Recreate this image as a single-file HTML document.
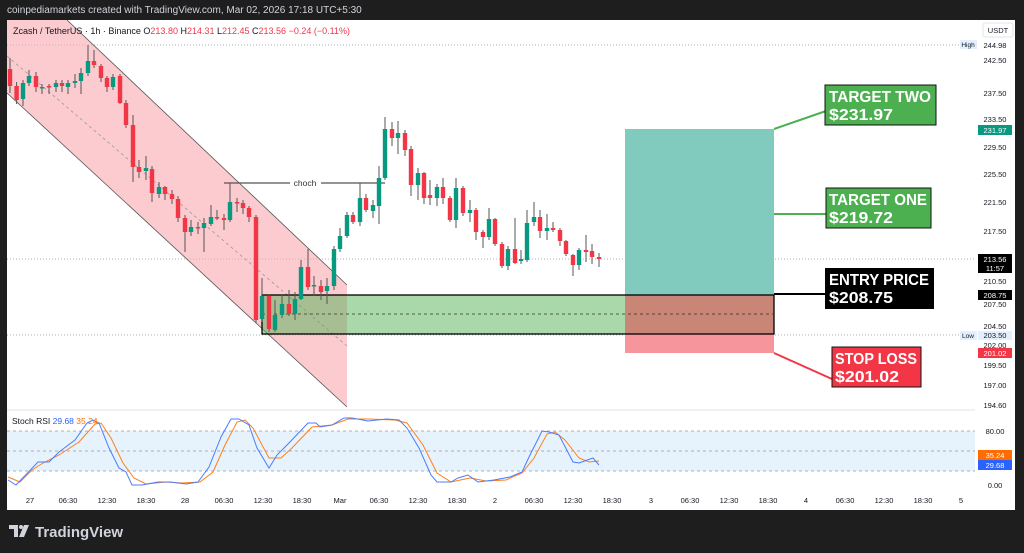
<!DOCTYPE html>
<html><head><meta charset="utf-8"><style>
html,body{margin:0;padding:0;background:#1e1e1e;}
svg{display:block;font-family:"Liberation Sans",sans-serif;}
</style></head><body>
<svg width="1024" height="553" viewBox="0 0 1024 553" xmlns="http://www.w3.org/2000/svg">
<rect width="1024" height="553" fill="#1e1e1e"/>
<text x="7" y="13" fill="#d1d4dc" font-size="10">coinpediamarkets created with TradingView.com, Mar 02, 2026 17:18 UTC+5:30</text>
<rect x="7" y="20" width="1008" height="490" fill="#fff"/>
<rect x="7" y="431" width="968" height="40" fill="#e3f2fd" opacity="0.9"/>
<g stroke="#9598a1" stroke-dasharray="3,3" stroke-width="0.8">
<line x1="7" y1="431" x2="975" y2="431"/><line x1="7" y1="451" x2="975" y2="451"/><line x1="7" y1="471" x2="975" y2="471"/>
</g>
<g stroke="#9598a1" stroke-dasharray="1,2" stroke-width="0.8">
<line x1="7" y1="45" x2="960" y2="45"/><line x1="7" y1="259" x2="975" y2="259"/><line x1="7" y1="335" x2="960" y2="335"/>
</g>
<polygon points="7,20 67,20 347,285 347,407 7,93" fill="#f7a1a8" opacity="0.55"/>
<line x1="67" y1="20" x2="347" y2="285" stroke="#555" stroke-width="0.8"/>
<line x1="7" y1="93" x2="347" y2="407" stroke="#555" stroke-width="0.8"/>
<line x1="7" y1="56" x2="347" y2="346" stroke="#999" stroke-width="0.8" stroke-dasharray="3,3"/>
<!-- demand zone -->
<rect x="262" y="295" width="363" height="39" fill="#4caf50" opacity="0.48"/>
<!-- position tool -->
<rect x="625" y="129" width="149" height="166" fill="#80cbbd"/>
<rect x="625" y="295" width="149" height="39" fill="#c98676"/>
<rect x="625" y="334" width="149" height="19" fill="#f7959d"/>
<rect x="262" y="295" width="512" height="39" fill="none" stroke="#000" stroke-width="1.3"/>
<line x1="262" y1="314" x2="774" y2="314" stroke="#333" stroke-dasharray="3,3" stroke-width="0.8"/>
<line x1="224" y1="183" x2="290" y2="183" stroke="#555" stroke-width="1.2"/>
<line x1="321" y1="183" x2="385" y2="183" stroke="#555" stroke-width="1.2"/>
<text x="305" y="186" font-size="8.5" text-anchor="middle" fill="#333">choch</text>
<g stroke-width="1">
<g stroke="#555">
<line x1="10" y1="58" x2="10" y2="93"/><line x1="16.6" y1="82" x2="16.6" y2="104"/><line x1="23" y1="80" x2="23" y2="106"/><line x1="29" y1="70" x2="29" y2="86"/><line x1="36" y1="72" x2="36" y2="92"/><line x1="42" y1="84" x2="42" y2="94"/><line x1="49" y1="84" x2="49" y2="94"/><line x1="56" y1="80" x2="56" y2="92"/><line x1="62" y1="80" x2="62" y2="92"/><line x1="68" y1="80" x2="68" y2="94"/><line x1="75" y1="74" x2="75" y2="88"/><line x1="81" y1="68" x2="81" y2="94"/><line x1="88" y1="45" x2="88" y2="76"/><line x1="94" y1="50" x2="94" y2="68"/><line x1="101" y1="64" x2="101" y2="82"/><line x1="107" y1="76" x2="107" y2="92"/><line x1="113" y1="74" x2="113" y2="90"/><line x1="120" y1="74" x2="120" y2="104"/><line x1="126" y1="100" x2="126" y2="128"/><line x1="133" y1="115" x2="133" y2="182"/><line x1="139" y1="160" x2="139" y2="178"/><line x1="146" y1="156" x2="146" y2="180"/><line x1="152" y1="166" x2="152" y2="202"/><line x1="159" y1="182" x2="159" y2="198"/><line x1="165" y1="186" x2="165" y2="200"/><line x1="172" y1="190" x2="172" y2="204"/><line x1="178" y1="196" x2="178" y2="222"/><line x1="185" y1="215" x2="185" y2="252"/><line x1="191" y1="220" x2="191" y2="236"/><line x1="198" y1="222" x2="198" y2="234"/><line x1="204" y1="218" x2="204" y2="252"/><line x1="211" y1="205" x2="211" y2="226"/><line x1="217" y1="210" x2="217" y2="220"/><line x1="224" y1="214" x2="224" y2="230"/><line x1="230" y1="183" x2="230" y2="222"/><line x1="237" y1="198" x2="237" y2="212"/><line x1="243" y1="200" x2="243" y2="214"/><line x1="249" y1="206" x2="249" y2="222"/><line x1="256" y1="215" x2="256" y2="323"/><line x1="262" y1="278" x2="262" y2="322"/><line x1="269" y1="294" x2="269" y2="332"/><line x1="275" y1="300" x2="275" y2="332"/><line x1="282" y1="294" x2="282" y2="318"/><line x1="289" y1="290" x2="289" y2="316"/><line x1="295" y1="292" x2="295" y2="320"/><line x1="301" y1="260" x2="301" y2="300"/><line x1="308" y1="249" x2="308" y2="290"/><line x1="314" y1="276" x2="314" y2="296"/><line x1="321" y1="280" x2="321" y2="300"/><line x1="327" y1="278" x2="327" y2="304"/><line x1="334" y1="246" x2="334" y2="290"/><line x1="340" y1="228" x2="340" y2="252"/><line x1="347" y1="212" x2="347" y2="238"/><line x1="353" y1="212" x2="353" y2="224"/><line x1="360" y1="183" x2="360" y2="226"/><line x1="366" y1="194" x2="366" y2="212"/><line x1="373" y1="200" x2="373" y2="218"/><line x1="379" y1="166" x2="379" y2="224"/><line x1="385" y1="117" x2="385" y2="180"/><line x1="392" y1="122" x2="392" y2="146"/><line x1="398" y1="121" x2="398" y2="154"/><line x1="405" y1="130" x2="405" y2="156"/><line x1="411" y1="146" x2="411" y2="196"/><line x1="418" y1="168" x2="418" y2="200"/><line x1="424" y1="172" x2="424" y2="204"/><line x1="437" y1="184" x2="437" y2="206"/><line x1="443" y1="178" x2="443" y2="204"/><line x1="450" y1="196" x2="450" y2="222"/><line x1="456" y1="178" x2="456" y2="228"/><line x1="463" y1="186" x2="463" y2="216"/><line x1="470" y1="200" x2="470" y2="222"/><line x1="476" y1="208" x2="476" y2="240"/><line x1="483" y1="230" x2="483" y2="248"/><line x1="489" y1="208" x2="489" y2="240"/><line x1="495" y1="218" x2="495" y2="246"/><line x1="502" y1="242" x2="502" y2="268"/><line x1="508" y1="246" x2="508" y2="270"/><line x1="515" y1="218" x2="515" y2="264"/><line x1="521" y1="250" x2="521" y2="264"/><line x1="527" y1="210" x2="527" y2="262"/><line x1="534" y1="202" x2="534" y2="226"/><line x1="540" y1="210" x2="540" y2="238"/><line x1="547" y1="214" x2="547" y2="240"/><line x1="553" y1="222" x2="553" y2="232"/><line x1="560" y1="228" x2="560" y2="246"/><line x1="566" y1="240" x2="566" y2="256"/><line x1="573" y1="254" x2="573" y2="276"/><line x1="579" y1="248" x2="579" y2="270"/><line x1="586" y1="235" x2="586" y2="262"/><line x1="592" y1="244" x2="592" y2="264"/><line x1="599" y1="253" x2="599" y2="267"/><line x1="430" y1="180" x2="430" y2="205"/>
</g>
<g fill="#089981">
<rect x="20.8" y="83" width="4.4" height="16"/><rect x="26.8" y="76" width="4.4" height="7"/><rect x="39.8" y="87" width="4.4" height="1.5"/><rect x="53.8" y="83" width="4.4" height="4"/><rect x="65.8" y="83" width="4.4" height="4"/><rect x="72.8" y="81" width="4.4" height="2"/><rect x="78.8" y="73" width="4.4" height="8"/><rect x="85.8" y="61" width="4.4" height="12"/><rect x="110.8" y="77" width="4.4" height="10"/><rect x="143.8" y="168" width="4.4" height="3"/><rect x="156.8" y="187" width="4.4" height="7"/><rect x="188.8" y="227" width="4.4" height="5"/><rect x="201.8" y="223" width="4.4" height="5"/><rect x="208.8" y="217" width="4.4" height="7"/><rect x="227.8" y="202" width="4.4" height="18"/><rect x="259.8" y="296" width="4.4" height="23"/><rect x="272.8" y="315" width="4.4" height="15"/><rect x="279.8" y="304" width="4.4" height="11"/><rect x="292.8" y="299" width="4.4" height="15"/><rect x="298.8" y="267" width="4.4" height="32"/><rect x="311.8" y="285" width="4.4" height="1.5"/><rect x="324.8" y="286" width="4.4" height="5"/><rect x="331.8" y="249" width="4.4" height="37"/><rect x="337.8" y="236" width="4.4" height="13"/><rect x="344.8" y="215" width="4.4" height="21"/><rect x="357.8" y="198" width="4.4" height="24"/><rect x="370.8" y="205" width="4.4" height="6"/><rect x="376.8" y="178" width="4.4" height="28"/><rect x="382.8" y="129" width="4.4" height="49"/><rect x="395.8" y="133" width="4.4" height="5"/><rect x="415.8" y="173" width="4.4" height="12"/><rect x="434.8" y="187" width="4.4" height="11"/><rect x="453.8" y="188" width="4.4" height="32"/><rect x="467.8" y="210" width="4.4" height="3"/><rect x="486.8" y="219" width="4.4" height="18"/><rect x="505.8" y="249" width="4.4" height="17"/><rect x="518.8" y="259" width="4.4" height="2"/><rect x="524.8" y="223" width="4.4" height="37"/><rect x="531.8" y="217" width="4.4" height="5"/><rect x="544.8" y="228" width="4.4" height="3"/><rect x="576.8" y="250" width="4.4" height="15"/>
</g>
<g fill="#f23645">
<rect x="7.8" y="69" width="4.4" height="17"/><rect x="14.4" y="86" width="4.4" height="14"/><rect x="33.8" y="76" width="4.4" height="11"/><rect x="46.8" y="86" width="4.4" height="1.5"/><rect x="59.8" y="83" width="4.4" height="3"/><rect x="91.8" y="61" width="4.4" height="4"/><rect x="98.8" y="66" width="4.4" height="12"/><rect x="104.8" y="78" width="4.4" height="9"/><rect x="117.8" y="76" width="4.4" height="27"/><rect x="123.8" y="103" width="4.4" height="22"/><rect x="130.8" y="125" width="4.4" height="42"/><rect x="136.8" y="167" width="4.4" height="5"/><rect x="149.8" y="169" width="4.4" height="24"/><rect x="162.8" y="187" width="4.4" height="7"/><rect x="169.8" y="194" width="4.4" height="5"/><rect x="175.8" y="199" width="4.4" height="19"/><rect x="182.8" y="218" width="4.4" height="14"/><rect x="195.8" y="227" width="4.4" height="1.5"/><rect x="214.8" y="217" width="4.4" height="1.5"/><rect x="221.8" y="218" width="4.4" height="2"/><rect x="234.8" y="202" width="4.4" height="1.5"/><rect x="240.8" y="203" width="4.4" height="5"/><rect x="246.8" y="208" width="4.4" height="9"/><rect x="253.8" y="217" width="4.4" height="103"/><rect x="266.8" y="296" width="4.4" height="33"/><rect x="286.8" y="304" width="4.4" height="10"/><rect x="305.8" y="267" width="4.4" height="20"/><rect x="318.8" y="286" width="4.4" height="6"/><rect x="350.8" y="215" width="4.4" height="7"/><rect x="363.8" y="198" width="4.4" height="12"/><rect x="389.8" y="129" width="4.4" height="9"/><rect x="402.8" y="133" width="4.4" height="17"/><rect x="408.8" y="149" width="4.4" height="36"/><rect x="421.8" y="173" width="4.4" height="25"/><rect x="427.8" y="195" width="4.4" height="3"/><rect x="440.8" y="187" width="4.4" height="11"/><rect x="447.8" y="198" width="4.4" height="22"/><rect x="460.8" y="188" width="4.4" height="25"/><rect x="473.8" y="210" width="4.4" height="22"/><rect x="480.8" y="232" width="4.4" height="5"/><rect x="492.8" y="219" width="4.4" height="25"/><rect x="499.8" y="244" width="4.4" height="22"/><rect x="512.8" y="249" width="4.4" height="14"/><rect x="537.8" y="217" width="4.4" height="14"/><rect x="550.8" y="228" width="4.4" height="2"/><rect x="557.8" y="230" width="4.4" height="11"/><rect x="563.8" y="241" width="4.4" height="13"/><rect x="570.8" y="255" width="4.4" height="10"/><rect x="583.8" y="250" width="4.4" height="2"/><rect x="589.8" y="251" width="4.4" height="6"/><rect x="596.8" y="257" width="4.4" height="2"/>
</g>
</g>
<line x1="774" y1="129" x2="826" y2="111" stroke="#4caf50" stroke-width="2"/>
<line x1="774" y1="214" x2="826" y2="214" stroke="#4caf50" stroke-width="2"/>
<line x1="774" y1="294" x2="826" y2="294" stroke="#000" stroke-width="2"/>
<line x1="774" y1="353" x2="832" y2="379" stroke="#f23645" stroke-width="2"/>
<g font-weight="bold" font-size="16" fill="#fff">
<rect x="825" y="85" width="111" height="40" fill="#4caf50" stroke="#111" stroke-width="1"/>
<text x="829" y="102" textLength="102" lengthAdjust="spacingAndGlyphs">TARGET TWO</text><text x="829" y="120" textLength="64" lengthAdjust="spacingAndGlyphs">$231.97</text>
<rect x="826" y="188" width="105" height="40" fill="#4caf50" stroke="#111" stroke-width="1"/>
<text x="829" y="205" textLength="98" lengthAdjust="spacingAndGlyphs">TARGET ONE</text><text x="829" y="223" textLength="64" lengthAdjust="spacingAndGlyphs">$219.72</text>
<rect x="825" y="268" width="109" height="41" fill="#000"/>
<text x="829" y="285" textLength="100" lengthAdjust="spacingAndGlyphs">ENTRY PRICE</text><text x="829" y="303" textLength="64" lengthAdjust="spacingAndGlyphs">$208.75</text>
<rect x="832" y="347" width="89" height="40" fill="#f23645" stroke="#111" stroke-width="1"/>
<text x="835" y="364" textLength="82" lengthAdjust="spacingAndGlyphs">STOP LOSS</text><text x="835" y="382" textLength="64" lengthAdjust="spacingAndGlyphs">$201.02</text>
</g>
<text x="13" y="34" font-size="9" fill="#131722">Zcash / TetherUS · 1h · Binance <tspan>O</tspan><tspan fill="#f23645">213.80</tspan> H<tspan fill="#f23645">214.31</tspan> L<tspan fill="#f23645">212.45</tspan> C<tspan fill="#f23645">213.56</tspan><tspan fill="#f23645"> −0.24 (−0.11%)</tspan></text>
<polyline fill="none" stroke="#ff7f19" stroke-width="1" points="8,477 20,482 32,470 43,463 59,455 79,442 95,424 101,423 111,438 123,463 134,478 146,484 166,482 182,483 200,482 213,472 225,445 237,422 245,420 253,428 269,458 281,458 292,448 312,427 332,425 348,419 368,419 395,420 407,423 423,445 437,473 451,482 470,478 486,481 506,480 522,473 534,458 547,434 555,432 565,440 579,458 589,462 599,461"/>
<polyline fill="none" stroke="#4a7cff" stroke-width="1" points="8,480 16,485 38,462 49,462 59,452 75,440 87,423 93,420 99,423 109,448 119,468 126,472 132,485 142,485 158,482 170,482 186,484 198,482 209,467 221,437 231,419 239,419 249,425 257,448 269,468 277,455 289,443 308,423 316,423 320,427 332,425 344,418 352,418 368,421 387,419 399,420 407,428 419,448 431,475 437,482 451,482 458,478 468,475 478,482 494,480 510,477 522,472 530,455 542,431 549,432 559,435 573,462 579,463 593,458 599,465"/>
<text x="12" y="424" font-size="8.5" fill="#131722">Stoch RSI <tspan fill="#2962ff">29.68</tspan> <tspan fill="#ff6d00">35.24</tspan></text>
<rect x="975" y="20" width="40" height="490" fill="#fff"/>
<g font-size="7.5" fill="#131722" text-anchor="middle">
<rect x="983" y="23" width="30" height="14" rx="2" fill="#fff" stroke="#e0e3eb"/>
<text x="998" y="33">USDT</text>
<text x="995" y="48">244.98</text><text x="995" y="63">242.50</text><text x="995" y="96">237.50</text><text x="995" y="122">233.50</text><text x="995" y="150">229.50</text><text x="995" y="177">225.50</text><text x="995" y="205">221.50</text><text x="995" y="234">217.50</text><text x="995" y="284">210.50</text><text x="995" y="307">207.50</text><text x="995" y="329">204.50</text><text x="995" y="348">202.00</text><text x="995" y="368">199.50</text><text x="995" y="388">197.00</text><text x="995" y="408">194.60</text><text x="995" y="434">80.00</text><text x="995" y="488">0.00</text>
</g>
<rect x="960" y="40" width="17" height="9" fill="#e3effd"/><text x="968" y="47" font-size="6.5" text-anchor="middle" fill="#131722">High</text>
<rect x="960" y="331" width="17" height="9" fill="#e3effd"/><text x="968" y="338" font-size="6.5" text-anchor="middle" fill="#131722">Low</text>
<rect x="978" y="331" width="34" height="9" fill="#e3effd"/><text x="995" y="338" font-size="7.5" text-anchor="middle" fill="#131722">203.50</text>
<rect x="978" y="125" width="34" height="10" fill="#089981"/><text x="995" y="133" font-size="7.5" text-anchor="middle" fill="#fff">231.97</text>
<rect x="978" y="254" width="34" height="19" fill="#000"/><text x="995" y="262" font-size="7.5" text-anchor="middle" fill="#fff">213.56</text><text x="995" y="271" font-size="7.5" text-anchor="middle" fill="#fff">11:57</text>
<rect x="978" y="290" width="34" height="10" fill="#000"/><text x="995" y="298" font-size="7.5" text-anchor="middle" fill="#fff">208.75</text>
<rect x="978" y="348" width="34" height="10" fill="#f23645"/><text x="995" y="356" font-size="7.5" text-anchor="middle" fill="#fff">201.02</text>
<rect x="978" y="450" width="34" height="10" fill="#ff6d00"/><text x="995" y="458" font-size="7.5" text-anchor="middle" fill="#fff">35.24</text>
<rect x="978" y="460" width="34" height="10" fill="#2962ff"/><text x="995" y="468" font-size="7.5" text-anchor="middle" fill="#fff">29.68</text>
<line x1="7" y1="410" x2="975" y2="410" stroke="#e0e3eb" stroke-width="1"/>
<g font-size="7.5" fill="#131722" text-anchor="middle">
<text x="30" y="503">27</text><text x="68" y="503">06:30</text><text x="107" y="503">12:30</text><text x="146" y="503">18:30</text><text x="185" y="503">28</text><text x="224" y="503">06:30</text><text x="263" y="503">12:30</text><text x="302" y="503">18:30</text><text x="340" y="503">Mar</text><text x="379" y="503">06:30</text><text x="418" y="503">12:30</text><text x="457" y="503">18:30</text><text x="495" y="503">2</text><text x="534" y="503">06:30</text><text x="573" y="503">12:30</text><text x="612" y="503">18:30</text><text x="651" y="503">3</text><text x="690" y="503">06:30</text><text x="729" y="503">12:30</text><text x="768" y="503">18:30</text><text x="806" y="503">4</text><text x="845" y="503">06:30</text><text x="884" y="503">12:30</text><text x="923" y="503">18:30</text><text x="961" y="503">5</text>
</g>
<g fill="#d1d4dc">
<path d="M9 525h9v12h-4v-8h-5z"/><circle cx="21" cy="527" r="2"/><path d="M24 525h5l-5 12h-5z"/>
</g>
<text x="35" y="537" font-size="15" font-weight="bold" fill="#d1d4dc">TradingView</text>
</svg>
</body></html>
